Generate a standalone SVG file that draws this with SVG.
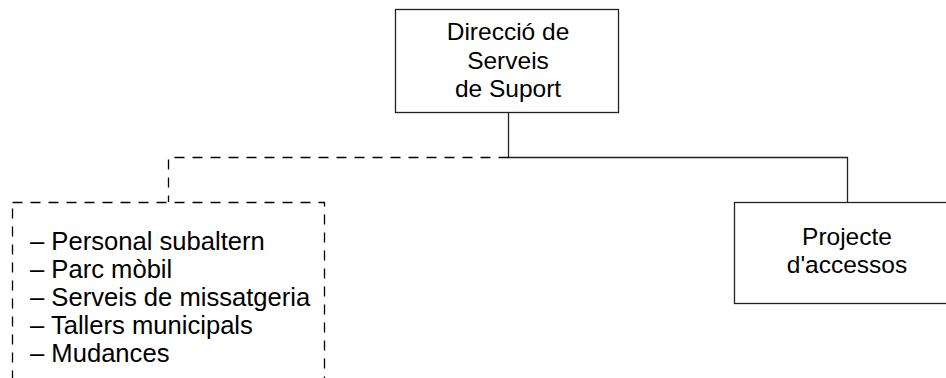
<svg xmlns="http://www.w3.org/2000/svg" width="946" height="378" viewBox="0 0 946 378">
<style>
.box{fill:#fff;stroke:#222;stroke-width:1.3}
.dash{fill:none;stroke:#000;stroke-width:1.3;stroke-dasharray:10 8}
.line{fill:none;stroke:#222;stroke-width:1.3}
text{font-family:"Liberation Sans",Arial,sans-serif;font-size:24.5px;fill:#000}
.c{text-anchor:middle}
.l{font-size:25.6px}
</style>
<rect width="946" height="378" fill="#fff"/>
<g id="connectors">
<polyline class="line" points="508.5,112 508.5,157.5 847.5,157.5 847.5,202"/>
<polyline class="dash" points="508.5,157.5 168.5,157.5 168.5,202"/>
</g>
<g id="node-direccio">
<rect class="box" x="395.5" y="9.5" width="223" height="103"/>
<text class="c" x="508" y="40">Direcció de</text>
<text class="c" x="508" y="69">Serveis</text>
<text class="c" x="508" y="97">de Suport</text>
</g>
<g id="node-serveis">
<rect class="dash" x="12.5" y="202.5" width="312" height="200"/>
<text class="l" x="30" y="250">– Personal subaltern</text>
<text class="l" x="30" y="278">– Parc mòbil</text>
<text class="l" x="30" y="306">– Serveis de missatgeria</text>
<text class="l" x="30" y="334">– Tallers municipals</text>
<text class="l" x="30" y="362">– Mudances</text>
</g>
<g id="node-projecte">
<rect class="box" x="734.5" y="202.5" width="240" height="101"/>
<text class="c" x="847" y="245">Projecte</text>
<text class="c" x="847" y="273">d'accessos</text>
</g>
</svg>
